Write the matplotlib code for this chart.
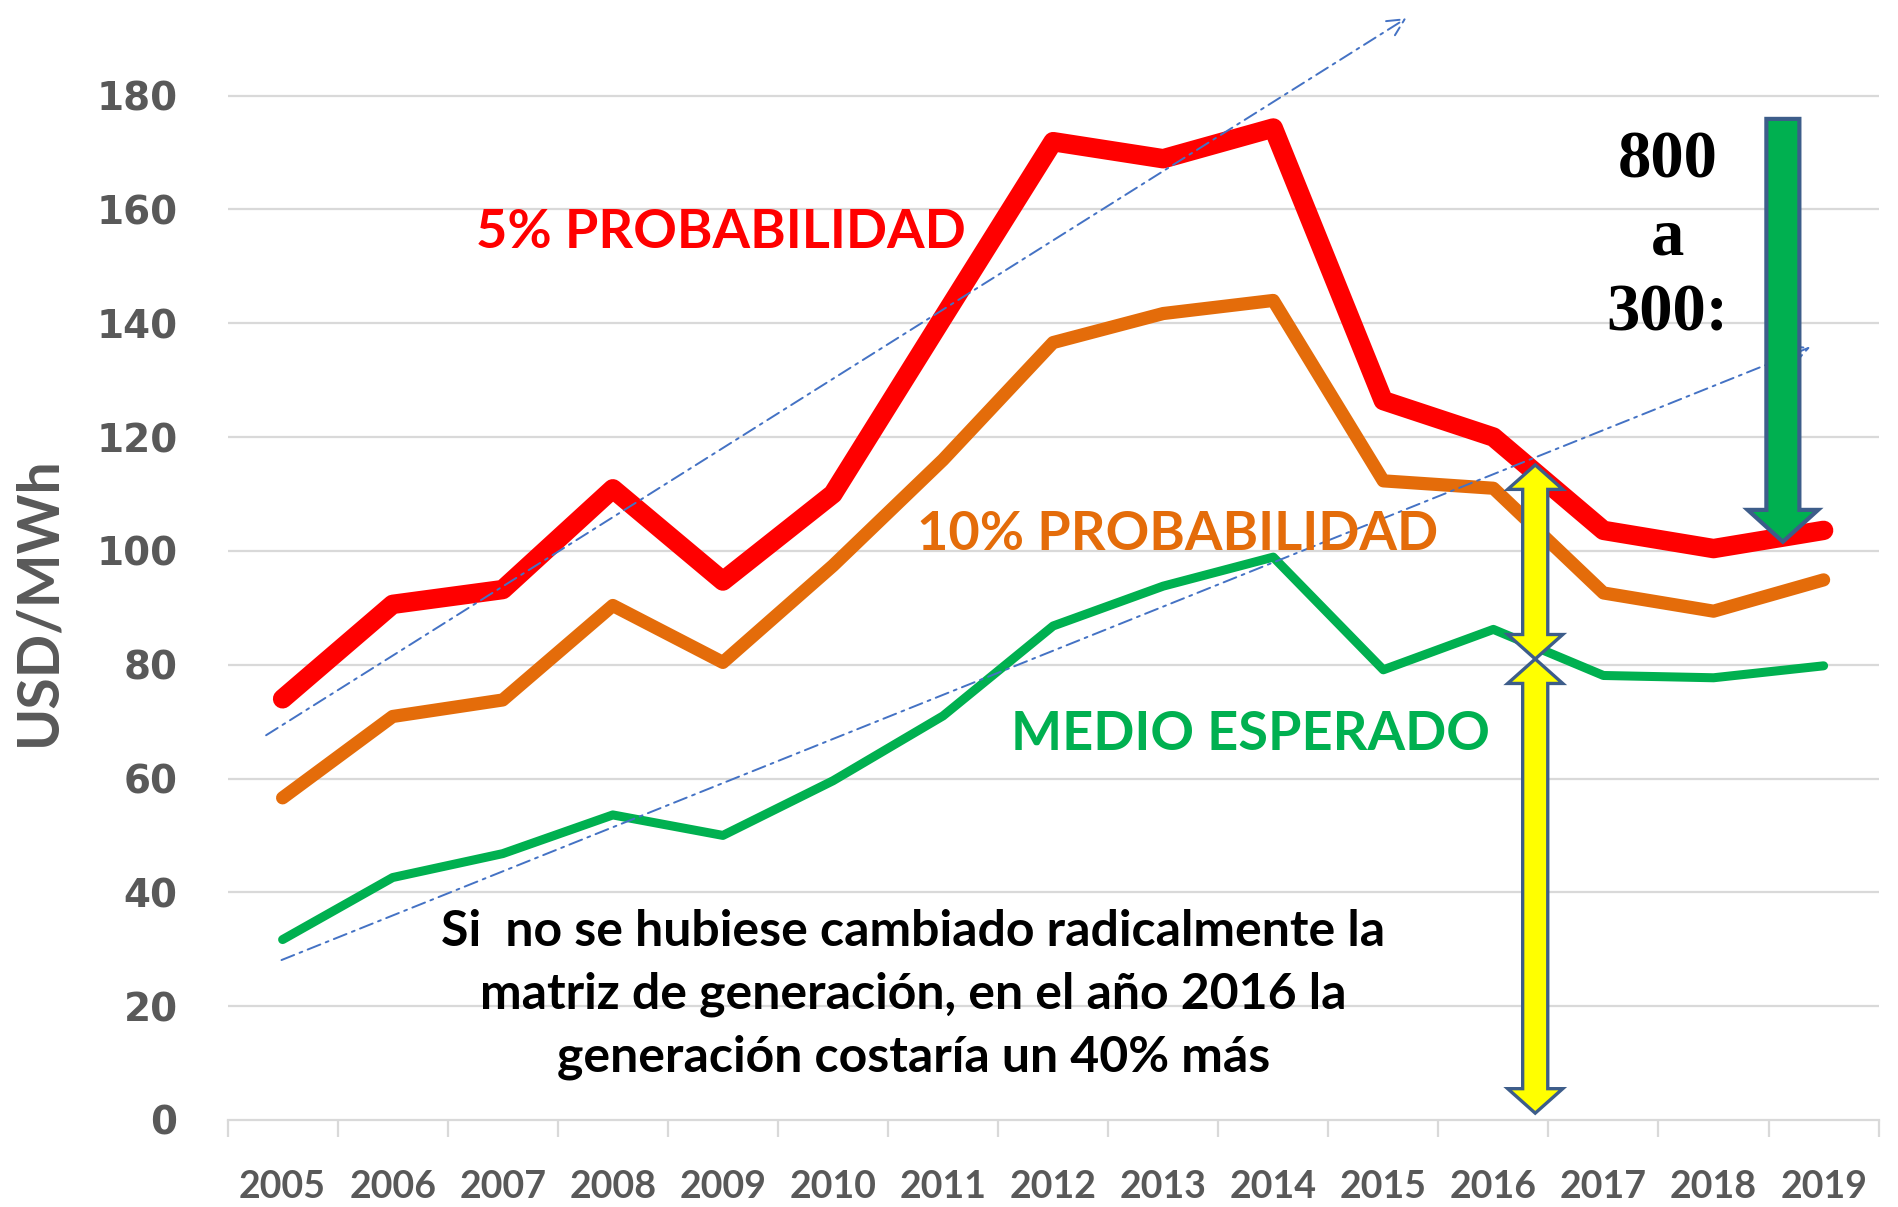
import matplotlib
matplotlib.use("Agg")
import matplotlib.pyplot as plt
from matplotlib import font_manager
from matplotlib.patches import Polygon
import numpy as np


def pick(*names):
    for n in names:
        try:
            font_manager.findfont(n, fallback_to_default=False)
            return n
        except Exception:
            pass
    return "DejaVu Sans"


LABEL_FONT = pick("Lato", "Open Sans", "DejaVu Sans")
NUM_FONT = "DejaVu Sans"
SERIF_FONT = pick("Liberation Serif", "DejaVu Serif")

years = ['2005', '2006', '2007', '2008', '2009', '2010', '2011', '2012',
         '2013', '2014', '2015', '2016', '2017', '2018', '2019']
prob_5 = [74.0, 90.6, 93.2, 110.9, 94.7, 110.0, 141.0, 171.9, 168.9, 174.3,
          126.4, 120.0, 103.6, 100.4, 103.6]
prob_10 = [56.6, 70.9, 73.8, 90.4, 80.4, 97.4, 116.0, 136.6, 141.7, 144.0,
           112.3, 111.0, 92.6, 89.4, 94.9]
medio = [31.7, 42.6, 46.8, 53.6, 50.0, 59.6, 71.0, 86.8, 93.8, 98.9,
         79.1, 86.2, 78.1, 77.7, 79.8]
yticks = [0, 20, 40, 60, 80, 100, 120, 140, 160, 180]

x = np.arange(len(years))

RED = '#ff0000'
ORANGE = '#e46c0a'
GREEN = '#00b050'
GRID = '#d9d9d9'
TICKC = '#595959'
EDGE = '#3d5d8a'

fig = plt.figure(figsize=(18.98, 12.07), dpi=100)
ax = fig.add_axes([0.1199, 0.0721, 0.8699, 0.9270])
ax.set_xlim(-0.5, 14.5)
ax.set_ylim(0, 196.6)

for v in yticks[1:]:
    ax.axhline(v, color=GRID, lw=1.6, zorder=0)

ax.plot(x, medio, color=GREEN, lw=6.5, solid_capstyle='round', zorder=3)
ax.plot(x, prob_10, color=ORANGE, lw=9.5, solid_capstyle='round', zorder=4)
ax.plot(x, prob_5, color=RED, lw=14, solid_capstyle='round', zorder=5)

# trend arrows (dash-dot)
for (x0, y0), (x1, y1) in [((-0.15, 67.6), (10.21, 193.6)),
                           ((-0.01, 28.1), (13.88, 135.8))]:
    ax.annotate('', xy=(x1, y1), xytext=(x0, y0),
                arrowprops=dict(arrowstyle='->', color='#4472c4', lw=1.4,
                                linestyle=(0, (7, 3, 1.5, 3)),
                                mutation_scale=30, shrinkA=0, shrinkB=0),
                zorder=6, annotation_clip=False)


def block_arrow(x0, y_lo, y_hi, sw, hw, hl, top=True, bottom=True):
    pts = []
    if top:
        pts += [(x0, y_hi), (x0 + hw, y_hi - hl), (x0 + sw, y_hi - hl)]
    else:
        pts += [(x0 + sw, y_hi)]
    if bottom:
        pts += [(x0 + sw, y_lo + hl), (x0 + hw, y_lo + hl), (x0, y_lo),
                (x0 - hw, y_lo + hl), (x0 - sw, y_lo + hl)]
    else:
        pts += [(x0 + sw, y_lo), (x0 - sw, y_lo)]
    if top:
        pts += [(x0 - sw, y_hi - hl), (x0 - hw, y_hi - hl)]
    else:
        pts += [(x0 - sw, y_hi)]
    return pts


# yellow double arrows at 2016
ax.add_patch(Polygon(block_arrow(11.38, 81.0, 115.1, 0.114, 0.25, 4.3),
                     closed=True, fc='#ffff00', ec=EDGE, lw=2.4, zorder=7))
ax.add_patch(Polygon(block_arrow(11.38, 1.2, 81.0, 0.114, 0.25, 4.3),
                     closed=True, fc='#ffff00', ec=EDGE, lw=2.4, zorder=7))
# green down arrow
ax.add_patch(Polygon(block_arrow(13.63, 101.6, 175.9, 0.15, 0.32, 5.6, top=False),
                     closed=True, fc=GREEN, ec=EDGE, lw=3, zorder=7))

ax.text(3.98, 156.0, '5% PROBABILIDAD', color=RED, fontsize=39, fontweight='bold',
        family=LABEL_FONT, ha='center', va='center', zorder=8)
ax.text(8.13, 102.8, '10% PROBABILIDAD', color=ORANGE, fontsize=39, fontweight='bold',
        family=LABEL_FONT, ha='center', va='center', zorder=8)
ax.text(8.79, 67.8, 'MEDIO ESPERADO', color=GREEN, fontsize=39, fontweight='bold',
        family=LABEL_FONT, ha='center', va='center', zorder=8)
ax.text(5.73, 22.0, 'Si  no se hubiese cambiado radicalmente la\n'
        'matriz de generación, en el año 2016 la\n'
        'generación costaría un 40% más',
        color='black', fontsize=36, fontweight='bold', family=LABEL_FONT,
        ha='center', va='center', multialignment='center', linespacing=1.47, zorder=8)
ax.text(12.58, 155.0, '800\na\n300:', color='black', fontsize=48, fontweight='bold',
        family=SERIF_FONT, ha='center', va='center', multialignment='center',
        linespacing=1.33, zorder=8)

for s in ['top', 'right', 'left']:
    ax.spines[s].set_visible(False)
ax.spines['bottom'].set_color(GRID)
ax.spines['bottom'].set_linewidth(1.6)

ax.set_yticks(yticks)
ax.set_yticklabels([str(v) for v in yticks], fontsize=28, fontweight='bold',
                   color=TICKC, family=NUM_FONT)
ax.tick_params(axis='y', length=0, pad=36)

ax.set_xticks(x)
ax.set_xticklabels(years, fontsize=27, fontweight='bold', color=TICKC,
                   family=LABEL_FONT)
ax.tick_params(axis='x', which='major', length=0, pad=36)
ax.set_xticks(np.arange(-0.5, 15, 1), minor=True)
ax.tick_params(axis='x', which='minor', length=12, width=1.6, color=GRID)

ax.set_ylabel('USD/MWh', fontsize=41, fontweight='bold', color=TICKC,
              family=LABEL_FONT)
ax.yaxis.set_label_coords(-0.098, 0.464)

fig.savefig('out.png', dpi=100)
